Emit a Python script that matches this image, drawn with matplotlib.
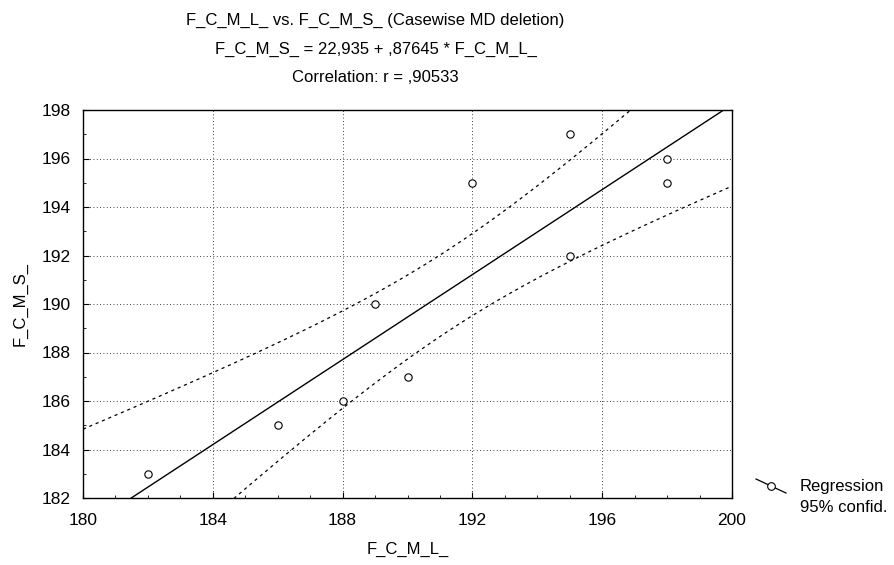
import numpy as np
import matplotlib.pyplot as plt
from matplotlib.lines import Line2D
from matplotlib.ticker import MultipleLocator

plt.rcParams["font.family"] = ["Liberation Sans", "DejaVu Sans"]

# data
fcml = [182, 186, 188, 189, 190, 192, 195, 195, 198, 198]
fcms = [183, 185, 186, 190, 187, 195, 197, 192, 196, 195]
intercept = 22.935
slope = 0.87645
t_crit = 2.306  # t(0.975, df=8)

x = np.array(fcml, float)
y = np.array(fcms, float)
n = len(x)
resid = y - (intercept + slope * x)
s = np.sqrt(np.sum(resid ** 2) / (n - 2))
sxx = np.sum((x - x.mean()) ** 2)

xx = np.linspace(180, 200, 200)
yfit = intercept + slope * xx
half = t_crit * s * np.sqrt(1 / n + (xx - x.mean()) ** 2 / sxx)

fig = plt.figure(figsize=(8.94, 5.65), dpi=100)
ax = fig.add_axes([83 / 894, 67 / 565, 649 / 894, 388 / 565])

ax.plot(xx, yfit, color="black", lw=1.0)
ax.plot(xx, yfit + half, color="black", lw=0.9, ls=(0, (2.5, 3)))
ax.plot(xx, yfit - half, color="black", lw=0.9, ls=(0, (2.5, 3)))
ax.scatter(x, y, s=28, facecolors="white", edgecolors="black", linewidths=0.8, zorder=3)

ax.set_xlim(180, 200)
ax.set_ylim(182, 198)
ax.xaxis.set_major_locator(MultipleLocator(4))
ax.xaxis.set_minor_locator(MultipleLocator(1))
ax.yaxis.set_major_locator(MultipleLocator(2))
ax.yaxis.set_minor_locator(MultipleLocator(1))
ax.tick_params(which="both", direction="in", top=False, right=False, labelsize=12.5, colors="black")
ax.tick_params(which="major", length=4)
ax.tick_params(which="minor", length=2)
ax.tick_params(axis="x", pad=11)
ax.tick_params(axis="y", pad=9)
ax.grid(True, which="major", color="black", ls=(0, (1, 3)), lw=0.6)
for sp in ax.spines.values():
    sp.set_linewidth(1.0)

ax.set_xlabel("F_C_M_L_", fontsize=12, labelpad=10)
ax.set_ylabel("F_C_M_S_", fontsize=12, labelpad=10)

fig.text(0.42, 1 - 20 / 565, "F_C_M_L_ vs. F_C_M_S_ (Casewise MD deletion)", ha="center", va="center", fontsize=12)
fig.text(0.42, 1 - 49 / 565, "F_C_M_S_ = 22,935 + ,87645 * F_C_M_L_", ha="center", va="center", fontsize=12)
fig.text(0.42, 1 - 78 / 565, "Correlation: r = ,90533", ha="center", va="center", fontsize=12)

# legend
fig.lines.append(Line2D([756 / 894, 786 / 894], [1 - 479 / 565, 1 - 493 / 565],
                        transform=fig.transFigure, color="black", lw=0.9))
fig.lines.append(Line2D([771 / 894], [1 - 486 / 565], transform=fig.transFigure,
                        marker="o", ms=5.5, mfc="white", mec="black", mew=0.8, ls="none"))
fig.text(800 / 894, 1 - 486 / 565, "Regression", ha="left", va="center", fontsize=12)
fig.text(800 / 894, 1 - 507 / 565, "95% confid.", ha="left", va="center", fontsize=12)

fig.savefig("out.png", dpi=100)
